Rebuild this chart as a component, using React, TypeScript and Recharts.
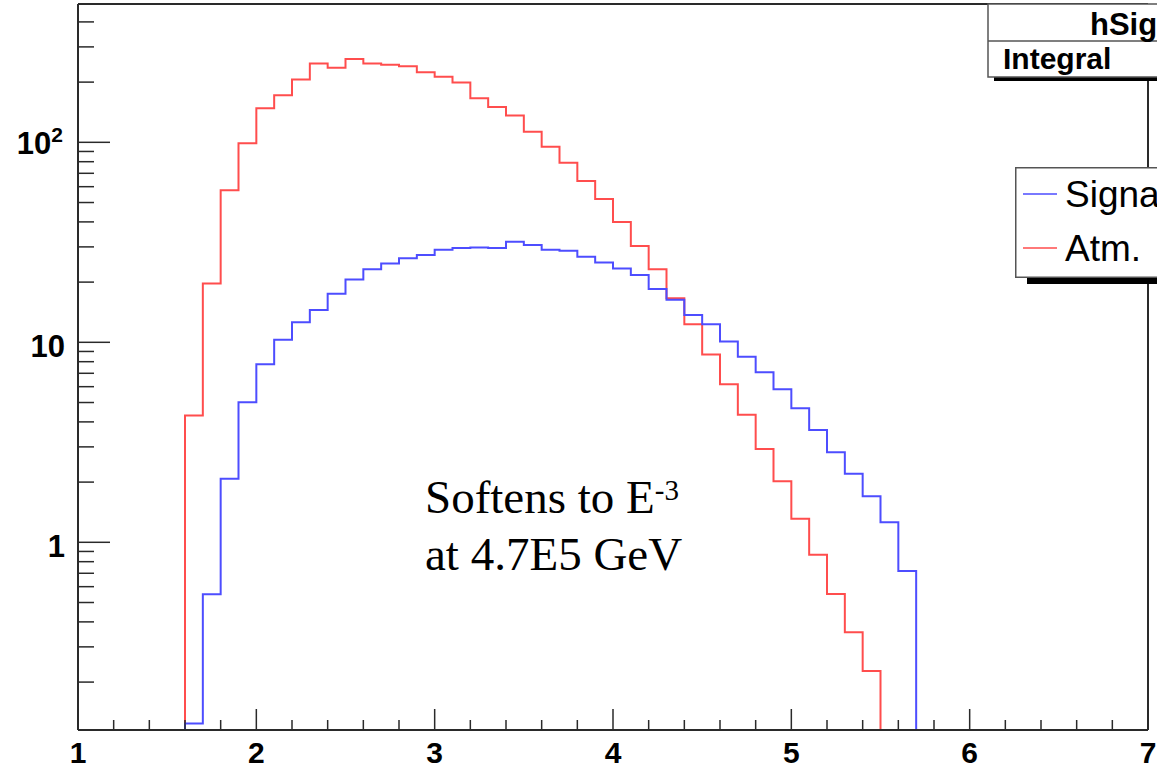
import React from 'react';
import { LineChart, Line, XAxis, YAxis, ReferenceLine, Legend } from 'recharts';

// ---- histogram definition (60 bins of 0.1 from 1 to 7) ----
const BIN_START = 1.0;
const BIN_WIDTH = 0.1;
const BIN_END = 7.0;

// Signal (blue) bin contents, bins 1.0 .. 6.9
const SIGNAL = [
  0, 0, 0, 0, 0, 0,
  0.124, 0.55, 2.08, 5.01,
  7.76, 10.3, 12.6, 14.5, 17.5, 20.6, 23.2, 24.8, 26.3, 27.3,
  29.0, 29.6, 29.8, 29.6, 31.8, 30.7, 29.0, 28.7, 26.8, 25.1,
  23.4, 21.7, 18.5, 16.3, 13.7, 12.3, 10.1, 8.47, 7.08, 5.82,
  4.68, 3.64, 2.82, 2.2, 1.7, 1.26, 0.719,
  0, 0, 0, 0, 0, 0, 0, 0, 0, 0, 0, 0, 0,
];

// Atm. background (red) bin contents, bins 1.0 .. 6.9
const ATM = [
  0, 0, 0, 0, 0, 0,
  4.3, 19.7, 57.6, 99,
  148, 172, 206, 248, 236, 261, 248, 244, 240, 224,
  213, 199, 166, 150, 136, 113, 95, 79, 64, 52,
  40, 30.3, 23.2, 16.6, 12.3, 8.7, 6.17, 4.34, 2.93, 2.02,
  1.31, 0.867, 0.551, 0.355, 0.227,
  0, 0, 0, 0, 0, 0, 0, 0, 0, 0, 0, 0, 0, 0, 0,
];

const SERIES_NAMES = ['Signal', 'Atm.'];
const SERIES_COLORS = ['#4d4dff', '#ff4d4d'];

// axis ticks
const X_MAJOR = [1, 2, 3, 4, 5, 6, 7];
const X_MINOR = [
  1.2, 1.4, 1.6, 1.8, 2.2, 2.4, 2.6, 2.8, 3.2, 3.4, 3.6, 3.8,
  4.2, 4.4, 4.6, 4.8, 5.2, 5.4, 5.6, 5.8, 6.2, 6.4, 6.6, 6.8,
];
const Y_MAJOR = [1, 10, 100];
const Y_MINOR = [
  0.2, 0.3, 0.4, 0.5, 0.6, 0.7, 0.8, 0.9,
  2, 3, 4, 5, 6, 7, 8, 9,
  20, 30, 40, 50, 60, 70, 80, 90,
  200, 300, 400,
];
const Y_MIN = 0.1152;
const Y_MAX = 491.6;

// stats box / annotation texts
const STATS_TITLE = 'hSignal';
const STATS_ROW = 'Integral';
const NOTE_LINE1 = 'Softens to E';
const NOTE_SUP = '-3';
const NOTE_LINE2 = 'at 4.7E5 GeV';

// ---- build the table for the library (stepAfter needs a closing point) ----
const r1 = (v: number) => Math.round(v * 10) / 10;
const floorLog = (v: number) => (v > 0 ? v : Y_MIN);
const data = SIGNAL.map((s, i) => ({
  x: r1(BIN_START + i * BIN_WIDTH),
  signal: floorLog(s),
  atm: floorLog(ATM[i]),
}));
data.push({
  x: BIN_END,
  signal: floorLog(SIGNAL[SIGNAL.length - 1]),
  atm: floorLog(ATM[ATM.length - 1]),
});

const X_TICKS = [...X_MAJOR, ...X_MINOR].sort((a, b) => a - b);
const Y_TICKS = [...Y_MAJOR, ...Y_MINOR].sort((a, b) => a - b);

const SANS = "'Liberation Sans', Arial, Helvetica, sans-serif";
const SERIF = "'Liberation Serif', 'Times New Roman', serif";
const AXIS = '#2a2a2a';

const XTick = (props: any) => {
  const { x, y, payload } = props;
  const v = payload.value;
  const major = X_MAJOR.some((m) => Math.abs(m - v) < 1e-6);
  return (
    <g>
      <line x1={x} x2={x} y1={y} y2={y - (major ? 21 : 10)} stroke={AXIS} strokeWidth={1.5} />
      {major && (
        <text x={x} y={y + 33} textAnchor="middle" fontFamily={SANS} fontWeight="bold" fontSize={30} fill="#000">
          {String(v)}
        </text>
      )}
    </g>
  );
};

const YTick = (props: any) => {
  const { x, y, payload } = props;
  const v = payload.value;
  const major = Y_MAJOR.some((m) => Math.abs(m - v) < 1e-9);
  return (
    <g>
      <line x1={x} x2={x + (major ? 32 : 16)} y1={y} y2={y} stroke={AXIS} strokeWidth={1.5} />
      {major && v === 100 && (
        <text x={x - 15} y={y + 12} textAnchor="end" fontFamily={SANS} fontWeight="bold" fontSize={31} fill="#000">
          10
          <tspan fontSize={21} dy={-12}>2</tspan>
        </text>
      )}
      {major && v !== 100 && (
        <text x={x - 13} y={y + 15} textAnchor="end" fontFamily={SANS} fontWeight="bold" fontSize={31} fill="#000">
          {String(v)}
        </text>
      )}
    </g>
  );
};

const LegendBox = (props: any) => {
  const payload: any[] = props.payload || [];
  const ordered = SERIES_NAMES.map((n) => payload.find((p) => p.value === n)).filter(Boolean);
  return (
    <svg width={200} height={125} style={{ display: 'block', overflow: 'visible' }}>
      <rect x={12} y={110} width={200} height={7} fill="#000" />
      <rect x={0.75} y={0.75} width={199} height={109.5} fill="#fff" stroke="#555" strokeWidth={1.5} />
      {ordered.map((p: any, i: number) => (
        <g key={p.value}>
          <line x1={8} x2={42} y1={27 + i * 54} y2={27 + i * 54} stroke={p.color} strokeWidth={1.5} />
          <text x={50} y={40 + i * 54} fontFamily={SANS} fontSize={37} fill="#000">
            {p.value}
          </text>
        </g>
      ))}
    </svg>
  );
};

export default function App() {
  return (
    <div style={{ position: 'absolute', left: 0, top: 0, width: 1157, height: 770, overflow: 'hidden', background: '#fff' }}>
      <LineChart width={1157} height={770} data={data} margin={{ top: 4, right: 9, bottom: 0, left: 0 }}>
        <XAxis
          dataKey="x"
          type="number"
          domain={[BIN_START, BIN_END]}
          ticks={X_TICKS}
          interval={0}
          allowDataOverflow
          height={40}
          tickSize={0}
          tickMargin={0}
          tickLine={false}
          axisLine={{ stroke: AXIS, strokeWidth: 2 }}
          tick={(p: any) => <XTick {...p} />}
        />
        <YAxis
          type="number"
          scale="log"
          domain={[Y_MIN, Y_MAX]}
          ticks={Y_TICKS}
          interval={0}
          allowDataOverflow
          width={78}
          tickSize={0}
          tickMargin={0}
          tickLine={false}
          axisLine={{ stroke: AXIS, strokeWidth: 2 }}
          tick={(p: any) => <YTick {...p} />}
        />
        <ReferenceLine y={Y_MAX} stroke={AXIS} strokeWidth={2} />
        <ReferenceLine x={BIN_END} stroke={AXIS} strokeWidth={2} />
        <Line
          type="stepAfter"
          dataKey="atm"
          name={SERIES_NAMES[1]}
          stroke={SERIES_COLORS[1]}
          strokeWidth={2}
          dot={false}
          activeDot={false}
          isAnimationActive={false}
        />
        <Line
          type="stepAfter"
          dataKey="signal"
          name={SERIES_NAMES[0]}
          stroke={SERIES_COLORS[0]}
          strokeWidth={2}
          dot={false}
          activeDot={false}
          isAnimationActive={false}
        />
        <Legend
          layout="horizontal"
          verticalAlign="middle"
          align="center"
          wrapperStyle={{ position: 'absolute', left: 1015, top: 167, width: 200, height: 125 }}
          content={(p: any) => <LegendBox {...p} />}
        />
      </LineChart>
      <svg
        width={1157}
        height={770}
        style={{ position: 'absolute', left: 0, top: 0, pointerEvents: 'none' }}
      >
        {/* stats box */}
        <rect x={994} y={77} width={200} height={4} fill="#000" />
        <rect x={988} y={4} width={200} height={73} fill="#fff" stroke="#555" strokeWidth={1.5} />
        <line x1={988} x2={1188} y1={41} y2={41} stroke="#555" strokeWidth={1.5} />
        <text x={1090} y={35} fontFamily={SANS} fontWeight="bold" fontSize={31} fill="#000">
          {STATS_TITLE}
        </text>
        <text x={1003} y={69} fontFamily={SANS} fontWeight="bold" fontSize={30} fill="#000">
          {STATS_ROW}
        </text>
        {/* annotation */}
        <text x={425} y={513} fontFamily={SERIF} fontSize={47} fill="#000">
          {NOTE_LINE1}
          <tspan fontSize={29} dy={-13}>{NOTE_SUP}</tspan>
        </text>
        <text x={425} y={570} fontFamily={SERIF} fontSize={47} fill="#000">
          {NOTE_LINE2}
        </text>
      </svg>
    </div>
  );
}
